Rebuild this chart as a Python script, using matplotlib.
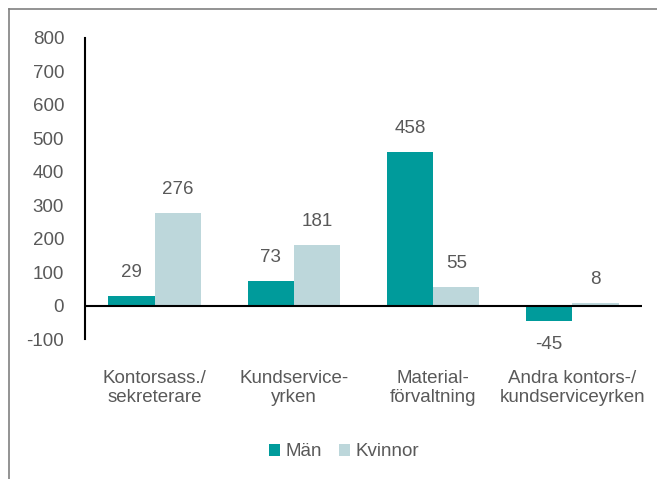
import matplotlib
matplotlib.use("Agg")
import matplotlib.pyplot as plt
import numpy as np
from matplotlib.lines import Line2D

plt.rcParams['font.family'] = ['Liberation Sans', 'DejaVu Sans']

categories = ["Kontorsass./\nsekreterare", "Kundservice-\nyrken", "Material-\nförvaltning",
              "Andra kontors-/\nkundserviceyrken"]
man = [29, 73, 458, -45]
kvinnor = [276, 181, 55, 8]
yticks = [-100, 0, 100, 200, 300, 400, 500, 600, 700, 800]

c_man = "#009b9b"
c_kv = "#bdd7db"
txt = "#595959"
fs = 13.5

fig = plt.figure(figsize=(6.57, 4.79), dpi=100)
ax = fig.add_axes([85 / 657, 1 - 339 / 479, 557 / 657, 301 / 479])

x = np.arange(len(categories))
w = 0.333
b1 = ax.bar(x - w / 2, man, w, color=c_man, label="Män")
b2 = ax.bar(x + w / 2, kvinnor, w, color=c_kv, label="Kvinnor")

for bars, vals in [(b1, man), (b2, kvinnor)]:
    for r, v in zip(bars, vals):
        cx = r.get_x() + r.get_width() / 2
        if v >= 0:
            ax.annotate(str(v), (cx, v), xytext=(0, 11), textcoords="offset points",
                        ha="center", va="bottom", fontsize=fs, color=txt)
        else:
            ax.annotate(str(v), (cx, v), xytext=(0, -11), textcoords="offset points",
                        ha="center", va="top", fontsize=fs, color=txt)

ax.set_xlim(-0.5, 3.5)
ax.set_ylim(-100, 800)
ax.set_yticks(yticks)
ax.set_yticklabels([str(t) for t in yticks], fontsize=fs, color=txt)
ax.set_xticks(x)
ax.set_xticklabels(categories, fontsize=fs, color=txt, linespacing=1.15)
ax.tick_params(axis="both", length=0)
ax.tick_params(axis="y", pad=15)
ax.tick_params(axis="x", pad=22)
ax.axhline(0, color="black", lw=1.5)
for s in ["top", "right", "bottom"]:
    ax.spines[s].set_visible(False)
ax.spines["left"].set_linewidth(1.5)

leg = fig.legend(loc="center", bbox_to_anchor=(344 / 657, 1 - 452 / 479), ncol=2, frameon=False,
                 fontsize=fs, handlelength=0.6, handleheight=0.6, handletextpad=0.3, columnspacing=0.9)
for t in leg.get_texts():
    t.set_color(txt)

fig.add_artist(Line2D([8.5 / 657, 8.5 / 657], [0, 1 - 8.5 / 479], transform=fig.transFigure, color="#808080", lw=1.2))
fig.add_artist(Line2D([8.5 / 657, 1], [1 - 8.5 / 479, 1 - 8.5 / 479], transform=fig.transFigure, color="#808080", lw=1.2))

fig.savefig("out.png", dpi=100)
